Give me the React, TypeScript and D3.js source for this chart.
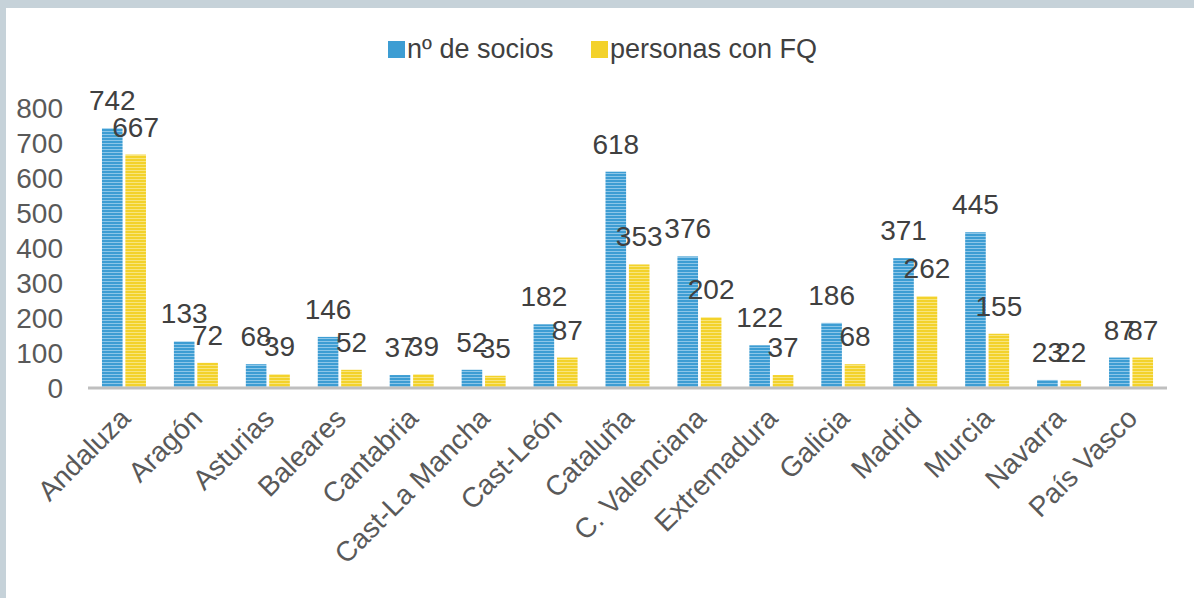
import React from "react";
import * as d3 from "d3";

const categories = [
  "Andaluza", "Aragón", "Asturias", "Baleares", "Cantabria", "Cast-La Mancha",
  "Cast-León", "Cataluña", "C. Valenciana", "Extremadura", "Galicia", "Madrid",
  "Murcia", "Navarra", "País Vasco",
];
const socios = [742, 133, 68, 146, 37, 52, 182, 618, 376, 122, 186, 371, 445, 23, 87];
const personasFQ = [667, 72, 39, 52, 39, 35, 87, 353, 202, 37, 68, 262, 155, 22, 87];
const seriesNames = ["nº de socios", "personas con FQ"];
const yTicks = [0, 100, 200, 300, 400, 500, 600, 700, 800];

const W = 1194;
const H = 598;
const FONT = "'Liberation Sans', Arial, Helvetica, sans-serif";

export default function App() {
  const x = d3.scaleBand<string>().domain(categories).range([88, 1167]).paddingInner(0).paddingOuter(0);
  const y = d3.scaleLinear().domain([0, 800]).range([388, 108]);
  const inner = d3.scaleBand<string>().domain(["a", "b"]).range([-22, 22]).paddingInner(0.12);
  const colors = ["#3d9dd3", "#f3d22b"];
  const series = [socios, personasFQ];
  const keys = ["a", "b"];

  return (
    <svg width={W} height={H} style={{ position: "absolute", left: 0, top: 0, background: "#fff" }}>
      <defs>
        <pattern id="pa" width="4" height="3" patternUnits="userSpaceOnUse">
          <rect width="4" height="3" fill="#3d9dd3" />
          <rect y="2" width="4" height="1" fill="#8cc6e8" />
        </pattern>
        <pattern id="pb" width="4" height="3" patternUnits="userSpaceOnUse">
          <rect width="4" height="3" fill="#f3d22b" />
          <rect y="2" width="4" height="1" fill="#f8e57e" />
        </pattern>
      </defs>
      <rect x={0} y={0} width={W} height={H} fill="#fff" />
      <rect x={0} y={0} width={W} height={8} fill="#c6d2d9" />
      <rect x={0} y={0} width={6} height={H} fill="#c6d2d9" />

      {/* legend */}
      <g fontFamily={FONT} fontSize={27} fill="#404040">
        <rect x={388} y={41} width={17} height={17} fill={colors[0]} />
        <text x={407} y={58}>{seriesNames[0]}</text>
        <rect x={591} y={41} width={17} height={17} fill={colors[1]} />
        <text x={610} y={58}>{seriesNames[1]}</text>
      </g>

      {/* y tick labels */}
      <g fontFamily={FONT} fontSize={28} fill="#595959" textAnchor="end">
        {yTicks.map((t) => (
          <text key={t} x={63} y={y(t)} dy="0.36em">{t}</text>
        ))}
      </g>

      {/* bars */}
      {series.map((vals, si) => (
        <g key={si} fill={`url(#p${keys[si]})`}>
          {vals.map((v, i) => {
            const cx = (x(categories[i]) as number) + x.bandwidth() / 2;
            const bx = cx + (inner(keys[si]) as number);
            return (
              <rect key={i} x={bx} y={y(v)} width={inner.bandwidth()} height={y(0) - y(v)} />
            );
          })}
        </g>
      ))}

      {/* x axis line */}
      <line x1={88} x2={1167} y1={388} y2={388} stroke="#bfbfbf" strokeWidth={3} />

      {/* value labels */}
      <g fontFamily={FONT} fontSize={28} fill="#404040" textAnchor="middle">
        {series.map((vals, si) =>
          vals.map((v, i) => {
            const cx = (x(categories[i]) as number) + x.bandwidth() / 2;
            const lx = cx + (inner(keys[si]) as number) + inner.bandwidth() / 2;
            const ly = Math.min(y(v) - 18, 362);
            return (
              <text key={`${si}-${i}`} x={lx} y={ly}>{v}</text>
            );
          })
        )}
      </g>

      {/* category labels */}
      <g fontFamily={FONT} fontSize={28} fill="#595959" textAnchor="end">
        {categories.map((c) => {
          const cx = (x(c) as number) + x.bandwidth() / 2;
          return (
            <text key={c} transform={`translate(${cx + 8},${420}) rotate(-45)`}>{c}</text>
          );
        })}
      </g>
    </svg>
  );
}
